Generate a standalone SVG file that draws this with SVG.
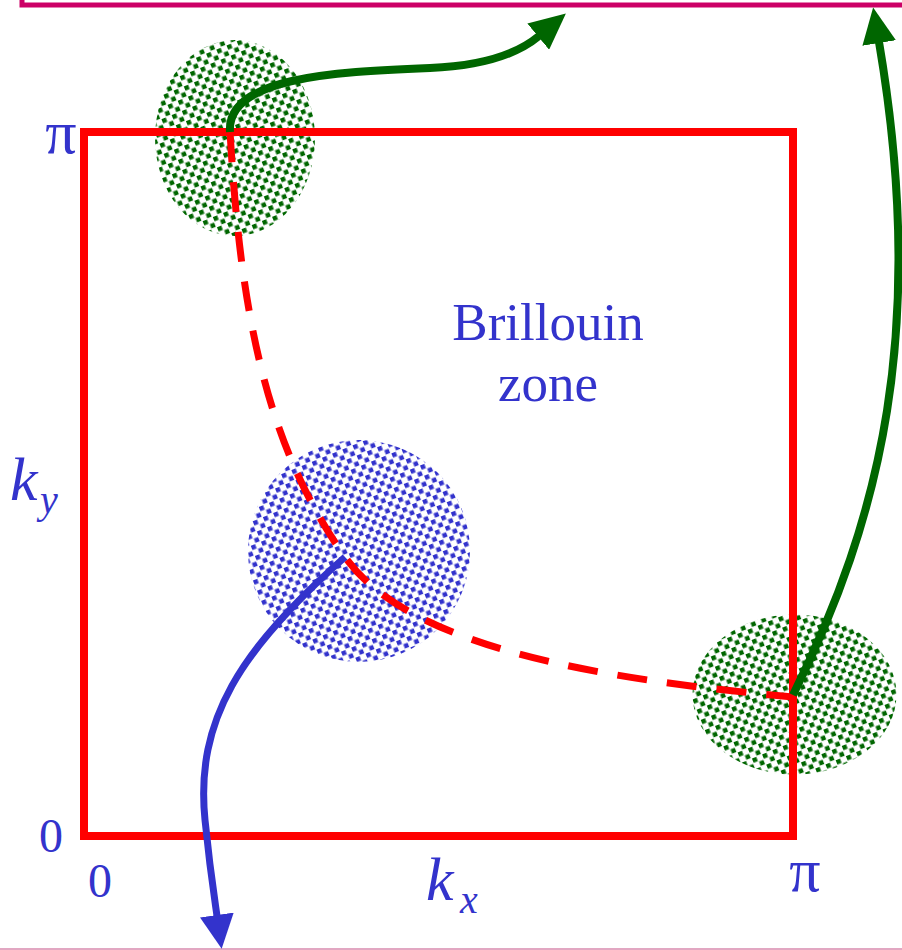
<svg xmlns="http://www.w3.org/2000/svg" width="902" height="950" viewBox="0 0 902 950">
<style>
.lbl{font-family:"Liberation Serif","Times New Roman",serif;fill:#3333CC}
.it{font-style:italic}
.conn{fill:none;stroke-width:7}
.gr{stroke-width:8}
</style>
<defs>
<pattern id="pg" width="11" height="11" patternUnits="userSpaceOnUse" patternTransform="rotate(-22)">
<rect width="11" height="11" fill="#fff"/>
<rect x="0.5" y="0.5" width="4.6" height="4.6" fill="#006600"/>
<rect x="6" y="6" width="4.6" height="4.6" fill="#006600"/>
</pattern>
<pattern id="pb" width="11" height="11" patternUnits="userSpaceOnUse" patternTransform="rotate(-22)">
<rect width="11" height="11" fill="#fff"/>
<rect x="0.5" y="0.5" width="4.6" height="4.6" fill="#3333CC"/>
<rect x="6" y="6" width="4.6" height="4.6" fill="#3333CC"/>
</pattern>
<filter id="soft" x="-5%" y="-5%" width="110%" height="110%"><feGaussianBlur stdDeviation="0.5"/></filter>
<marker id="ag" markerUnits="userSpaceOnUse" viewBox="0 0 36 34" refX="1" refY="17" markerWidth="36" markerHeight="34" orient="auto"><path d="M0,0 L36,17 L0,34 z" fill="#006600"/></marker>
<marker id="ab" markerUnits="userSpaceOnUse" viewBox="0 0 34 34" refX="1" refY="17" markerWidth="34" markerHeight="34" orient="auto"><path d="M0,0 L34,17 L0,34 z" fill="#3333CC"/></marker>
</defs>
<rect width="902" height="950" fill="#fff"/>
<rect id="outer-box" x="22" y="-60" width="900" height="65" fill="none" stroke="#CC0066" stroke-width="5"/>
<line x1="0" y1="949" x2="902" y2="949" stroke="#D88AAE" stroke-width="1.5"/>
<g id="spot-top"><ellipse cx="235" cy="138" rx="80" ry="98" fill="url(#pg)" filter="url(#soft)"/></g>
<g id="spot-center"><circle cx="359" cy="551" r="111" fill="url(#pb)" filter="url(#soft)"/></g>
<g id="spot-right"><ellipse cx="794.5" cy="694.5" rx="102" ry="80" fill="url(#pg)" filter="url(#soft)"/></g>
<g id="brillouin-zone">
<rect x="84" y="132" width="709" height="704" fill="none" stroke="#FF0000" stroke-width="8"/>
<text class="lbl" x="548" y="340" font-size="53" text-anchor="middle">Brillouin</text>
<text class="lbl" x="548" y="401" font-size="53" text-anchor="middle">zone</text>
</g>
<g id="axes-labels">
<text class="lbl" x="61" y="153" font-size="62" text-anchor="middle">π</text>
<text class="lbl" x="51" y="852" font-size="48" text-anchor="middle">0</text>
<text class="lbl" x="100" y="897" font-size="48" text-anchor="middle">0</text>
<text class="lbl" x="805" y="891" font-size="62" text-anchor="middle">π</text>
<text class="lbl it" x="426" y="900" font-size="62">k</text>
<text class="lbl it" x="460" y="913" font-size="40">x</text>
<text class="lbl it" x="10" y="500" font-size="62">k</text>
<text class="lbl it" x="40" y="513" font-size="40">y</text>
</g>
<g id="connectors">
<path class="conn" d="M230,132 C240,300 262,440 345,557 C410,650 610,680 793,697" stroke="#FF0000" stroke-dasharray="30,20"/>
<path class="conn gr" d="M230,132 C226,78 330,72 430,68 C480,66 515,56 539,36" stroke="#006600" marker-end="url(#ag)"/>
<path class="conn gr" d="M793,695 C880,520 928,330 879,42" stroke="#006600" marker-end="url(#ag)"/>
<path class="conn" d="M345,557 C240,650 195,720 205,820 C210,870 214,895 217,916" stroke="#3333CC" marker-end="url(#ab)"/>
</g>
</svg>
